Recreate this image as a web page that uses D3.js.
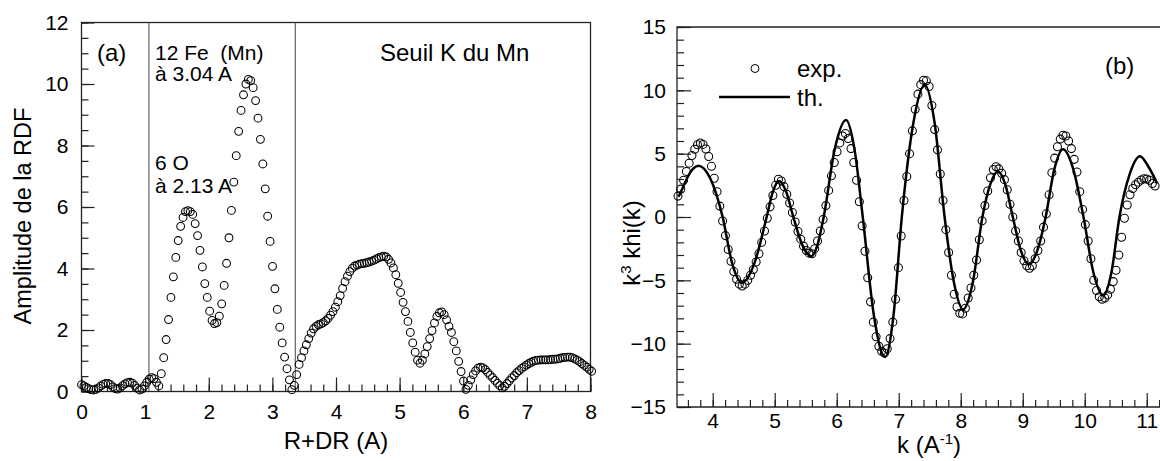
<!DOCTYPE html>
<html><head><meta charset="utf-8">
<script src="https://cdn.jsdelivr.net/npm/d3@7"></script>
<style>body{margin:0;background:#fff} svg text{font-family:"Liberation Sans",Arial,sans-serif;fill:#000}</style>
</head><body><svg id="c" width="1160" height="461"></svg>
<script>
// ---------- Panel (a): RDF amplitude ----------
const rdfR = [0,0.038,0.076,0.114,0.152,0.19,0.228,0.266,0.304,0.342,
0.38,0.418,0.456,0.494,0.532,0.57,0.608,0.646,0.684,0.722,
0.76,0.798,0.836,0.874,0.912,0.95,0.988,1.026,1.064,1.102,
1.14,1.178,1.216,1.254,1.292,1.33,1.368,1.406,1.444,1.482,
1.52,1.558,1.596,1.634,1.672,1.71,1.748,1.786,1.824,1.862,
1.9,1.938,1.976,2.014,2.052,2.09,2.128,2.166,2.204,2.242,
2.28,2.318,2.356,2.394,2.432,2.47,2.508,2.546,2.584,2.622,
2.66,2.698,2.736,2.774,2.812,2.85,2.888,2.926,2.964,3.002,
3.04,3.078,3.116,3.154,3.192,3.23,3.268,3.306,3.344,3.382,
3.42,3.458,3.496,3.534,3.572,3.61,3.648,3.686,3.724,3.762,
3.8,3.838,3.876,3.914,3.952,3.99,4.028,4.066,4.104,4.142,
4.18,4.218,4.256,4.294,4.332,4.37,4.408,4.446,4.484,4.522,
4.56,4.598,4.636,4.674,4.712,4.75,4.788,4.826,4.864,4.902,
4.94,4.978,5.016,5.054,5.092,5.13,5.168,5.206,5.244,5.282,
5.32,5.358,5.396,5.434,5.472,5.51,5.548,5.586,5.624,5.662,
5.7,5.738,5.776,5.814,5.852,5.89,5.928,5.966,6.004,6.042,
6.08,6.118,6.156,6.194,6.232,6.27,6.308,6.346,6.384,6.422,
6.46,6.498,6.536,6.574,6.612,6.65,6.688,6.726,6.764,6.802,
6.84,6.878,6.916,6.954,6.992,7.03,7.068,7.106,7.144,7.182,
7.22,7.258,7.296,7.334,7.372,7.41,7.448,7.486,7.524,7.562,
7.6,7.638,7.676,7.714,7.752,7.79,7.828,7.866,7.904,7.942,
7.98,8.018];
const rdfAmp = [0.22,0.18,0.13,0.09,0.06,0.05,0.07,0.12,0.18,0.23,
0.26,0.26,0.22,0.15,0.09,0.08,0.12,0.19,0.25,0.29,
0.3,0.27,0.2,0.11,0.05,0.08,0.18,0.3,0.4,0.45,
0.42,0.3,0.18,0.58,1.1,1.69,2.34,3.06,3.73,4.36,
4.91,5.37,5.66,5.85,5.88,5.85,5.76,5.46,5.07,4.59,
4.05,3.51,3.06,2.61,2.31,2.21,2.24,2.45,2.85,3.45,
4.17,5.0,5.89,6.81,7.67,8.46,9.14,9.65,10.0,10.15,
10.11,9.88,9.46,8.89,8.2,7.4,6.59,5.7,4.88,4.07,
3.34,2.67,2.09,1.58,1.12,0.74,0.38,0.06,0.2,0.55,
0.88,1.1,1.32,1.52,1.72,1.9,2.04,2.12,2.17,2.2,
2.24,2.3,2.38,2.48,2.6,2.74,2.92,3.12,3.35,3.57,
3.75,3.9,4.01,4.08,4.11,4.14,4.16,4.17,4.19,4.21,
4.24,4.27,4.31,4.35,4.38,4.4,4.38,4.3,4.18,4.02,
3.8,3.52,3.22,2.9,2.6,2.28,1.92,1.58,1.28,1.02,
0.92,1.02,1.22,1.46,1.72,1.98,2.23,2.44,2.56,2.59,
2.5,2.33,2.12,1.92,1.62,1.32,0.98,0.65,0.34,0.07,
0.2,0.38,0.55,0.67,0.76,0.79,0.77,0.71,0.62,0.53,
0.45,0.36,0.27,0.19,0.12,0.17,0.26,0.35,0.44,0.52,
0.61,0.68,0.75,0.8,0.86,0.91,0.95,0.99,1.01,1.02,
1.03,1.03,1.03,1.03,1.04,1.05,1.05,1.06,1.08,1.1,
1.11,1.12,1.12,1.1,1.06,1.02,0.97,0.91,0.85,0.79,
0.72,0.66];
const shellLinesR = [1.06, 3.36];
const xTicksA = [0,1,2,3,4,5,6,7,8];
const yTicksA = [0,2,4,6,8,10,12];

// ---------- Panel (b): k^3 chi(k) ----------
const expK = [3.44,3.485,3.53,3.575,3.62,3.665,3.71,3.755,3.8,3.845,
3.89,3.935,3.98,4.025,4.07,4.115,4.16,4.205,4.25,4.295,
4.34,4.385,4.43,4.475,4.52,4.565,4.61,4.655,4.7,4.745,
4.79,4.835,4.88,4.925,4.97,5.015,5.06,5.105,5.15,5.195,
5.24,5.285,5.33,5.375,5.42,5.465,5.51,5.555,5.6,5.645,
5.69,5.735,5.78,5.825,5.87,5.915,5.96,6.005,6.05,6.095,
6.14,6.185,6.23,6.275,6.32,6.365,6.41,6.455,6.5,6.545,
6.59,6.635,6.68,6.725,6.77,6.815,6.86,6.905,6.95,6.995,
7.04,7.085,7.13,7.175,7.22,7.265,7.31,7.355,7.4,7.445,
7.49,7.535,7.58,7.625,7.67,7.715,7.76,7.805,7.85,7.895,
7.94,7.985,8.03,8.075,8.12,8.165,8.21,8.255,8.3,8.345,
8.39,8.435,8.48,8.525,8.57,8.615,8.66,8.705,8.75,8.795,
8.84,8.885,8.93,8.975,9.02,9.065,9.11,9.155,9.2,9.245,
9.29,9.335,9.38,9.425,9.47,9.515,9.56,9.605,9.65,9.695,
9.74,9.785,9.83,9.875,9.92,9.965,10.01,10.055,10.1,10.145,
10.19,10.235,10.28,10.325,10.37,10.415,10.46,10.505,10.55,10.595,
10.64,10.685,10.73,10.775,10.82,10.865,10.91,10.955,11.0,11.045,
11.09,11.135];
const expChi = [1.65,2.2,2.9,3.6,4.25,4.85,5.35,5.7,5.85,5.73,
5.37,4.78,4.0,3.06,2.0,0.86,-0.32,-1.47,-2.56,-3.5,
-4.31,-4.91,-5.3,-5.45,-5.3,-5.0,-4.6,-4.15,-3.55,-2.9,
-2.0,-1.1,-0.1,0.8,1.7,2.5,2.98,2.85,2.4,1.8,
1.1,0.35,-0.4,-1.15,-1.75,-2.3,-2.65,-2.85,-2.9,-2.5,
-1.9,-1.1,-0.2,0.9,2.1,3.25,4.3,5.15,5.85,6.4,
6.6,6.2,5.4,4.3,2.9,1.2,-0.7,-2.7,-4.8,-6.7,
-8.3,-9.45,-10.2,-10.6,-10.75,-10.4,-9.6,-8.3,-6.5,-4.0,
-1.5,1.3,3.2,5.0,6.8,8.5,9.7,10.45,10.8,10.75,
10.3,8.8,6.9,5.3,3.4,1.3,-1.0,-2.8,-4.6,-6.1,
-7.1,-7.6,-7.65,-7.2,-6.4,-5.6,-4.6,-3.4,-1.8,-0.3,
0.9,2.05,3.1,3.75,3.97,3.8,3.45,2.95,2.15,1.0,
0.0,-1.1,-1.9,-2.8,-3.45,-3.85,-4.05,-3.85,-3.3,-2.65,
-1.9,-0.8,0.25,1.75,3.5,4.65,5.55,6.15,6.45,6.4,
6.0,5.4,4.55,3.55,2.0,0.6,-0.6,-1.9,-3.3,-5.0,
-5.8,-6.3,-6.5,-6.4,-6.15,-5.7,-5.1,-4.2,-3.0,-1.6,
-0.1,0.95,1.75,2.25,2.55,2.75,2.92,3.02,3.0,2.9,
2.65,2.45];
const thK = [3.45,3.53,3.6,3.68,3.77,3.965,4.16,4.315,4.47,4.67,4.87,4.97,5.07,5.185,5.3,5.445,5.59,5.69,5.79,5.97,6.15,6.285,6.42,6.6,6.78,6.915,7.05,7.235,7.42,7.58,7.74,7.89,8.04,8.195,8.35,8.475,8.6,8.72,8.84,8.97,9.1,9.235,9.37,9.51,9.65,9.815,9.98,10.14,10.3,10.43,10.56,10.725,10.89,11.03,11.17];
const thChi = [1.6,2.45,3.2,3.8,4.05,3.0,0,-3.68,-5.2,-3.68,0,2.0,2.85,2.0,0,-2.2,-3.1,-2.2,0,5.4,7.65,5.4,0,-7.8,-11.05,-7.8,0,7.4,10.45,7.4,0,-5.16,-7.3,-5.16,0,2.55,3.6,2.55,0,-2.65,-3.75,-2.65,0,3.78,5.35,3.78,0,-4.38,-6.2,-4.38,0,3.39,4.8,3.95,2.65];
const xTicksB = [4,5,6,7,8,9,10,11];
const yTicksB = [-15,-10,-5,0,5,10,15];
const legendLabels = ["exp.", "th."];

// ---------- drawing ----------
const svg = d3.select('#c');
const ink = '#000', axisCol = '#222';
const TICK_FS = 21, TITLE_FS = 24, ANN_FS = 21, TAG_FS = 24;

function txt(g, x, y, s, fs, anchor, rot) {
  const t = g.append('text').attr('font-size', fs).attr('text-anchor', anchor || 'start')
    .attr('transform', `translate(${x},${y})` + (rot ? ` rotate(${rot})` : ''));
  t.text(s);
  return t;
}

// ===== Panel A =====
const xA = d3.scaleLinear().domain([0, 8]).range([81.5, 590.5]);
const yA = d3.scaleLinear().domain([0, 12]).range([391.5, 22.5]);
const gA = svg.append('g');

gA.append('g').attr('transform', `translate(0,${yA(0)})`)
  .call(d3.axisBottom(xA).tickValues(d3.range(0, 8.001, 0.2)).tickSize(-7).tickFormat(''))
  .call(g => g.select('.domain').remove());
gA.append('g').attr('transform', `translate(0,${yA(0)})`)
  .call(d3.axisBottom(xA).tickValues(xTicksA).tickSize(-14).tickPadding(13).tickFormat(d3.format('d')))
  .call(g => g.select('.domain').remove())
  .call(g => g.selectAll('text').attr('font-size', TICK_FS).attr('fill', ink));
gA.append('g').attr('transform', `translate(${xA(0)},0)`)
  .call(d3.axisLeft(yA).tickValues(d3.range(0, 12.001, 0.5)).tickSize(-7).tickFormat(''))
  .call(g => g.select('.domain').remove());
gA.append('g').attr('transform', `translate(${xA(0)},0)`)
  .call(d3.axisLeft(yA).tickValues(yTicksA).tickSize(-13).tickPadding(13).tickFormat(d3.format('d')))
  .call(g => g.select('.domain').remove())
  .call(g => g.selectAll('text').attr('font-size', TICK_FS).attr('fill', ink));
gA.selectAll('.tick line').attr('stroke', axisCol).attr('stroke-width', 1.2);

gA.append('rect').attr('x', xA(0)).attr('y', yA(12)).attr('width', xA(8) - xA(0)).attr('height', yA(0) - yA(12))
  .attr('fill', 'none').attr('stroke', axisCol).attr('stroke-width', 1.3);
gA.selectAll('line.shell').data(shellLinesR).join('line').attr('class', 'shell')
  .attr('x1', d => xA(d)).attr('x2', d => xA(d)).attr('y1', yA(12)).attr('y2', yA(0))
  .attr('stroke', '#555').attr('stroke-width', 1.1);

gA.append('g').selectAll('circle').data(rdfR.map((r, i) => [r, rdfAmp[i]])).join('circle')
  .attr('cx', d => xA(d[0])).attr('cy', d => yA(d[1])).attr('r', 3.9)
  .attr('fill', 'none').attr('stroke', ink).attr('stroke-width', 1.05);

txt(gA, 336, 449, 'R+DR (A)', TITLE_FS, 'middle');
txt(gA, 31, 216, 'Amplitude de la RDF', 23.5, 'middle', -90);
txt(gA, 97, 61, '(a)', TAG_FS);
txt(gA, 155, 60, '12 Fe\u00a0\u00a0(Mn)', ANN_FS);
txt(gA, 155, 81, 'à 3.04 A', ANN_FS);
txt(gA, 155, 170, '6 O', ANN_FS);
txt(gA, 155, 193, 'à 2.13 A', ANN_FS);
txt(gA, 380, 61, 'Seuil K du Mn', TAG_FS);

// ===== Panel B =====
const xB = d3.scaleLinear().domain([3.424, 11.214]).range([677, 1160]);
const yB = d3.scaleLinear().domain([-15, 15]).range([407, 27]);
const gB = svg.append('g');

gB.append('g').attr('transform', `translate(0,${yB(-15)})`)
  .call(d3.axisBottom(xB).tickValues(d3.range(3.6, 11.201, 0.2)).tickSize(-7).tickFormat(''))
  .call(g => g.select('.domain').remove());
gB.append('g').attr('transform', `translate(0,${yB(-15)})`)
  .call(d3.axisBottom(xB).tickValues(xTicksB).tickSize(-14).tickPadding(6).tickFormat(d3.format('d')))
  .call(g => g.select('.domain').remove())
  .call(g => g.selectAll('text').attr('font-size', TICK_FS).attr('fill', ink));
gB.append('g').attr('transform', `translate(${xB.range()[0]},0)`)
  .call(d3.axisLeft(yB).tickValues(d3.range(-15, 15.001, 1)).tickSize(-7).tickFormat(''))
  .call(g => g.select('.domain').remove());
gB.append('g').attr('transform', `translate(${xB.range()[0]},0)`)
  .call(d3.axisLeft(yB).tickValues(yTicksB).tickSize(-14).tickPadding(11).tickFormat(d3.format('d')))
  .call(g => g.select('.domain').remove())
  .call(g => g.selectAll('text').attr('font-size', TICK_FS).attr('fill', ink));
gB.selectAll('.tick line').attr('stroke', axisCol).attr('stroke-width', 1.2);

gB.append('path').attr('d', `M1160,${yB(15)}H${xB.range()[0]}V${yB(-15)}H1160`)
  .attr('fill', 'none').attr('stroke', axisCol).attr('stroke-width', 1.3);

const line = d3.line().x(d => xB(d[0])).y(d => yB(d[1])).curve(d3.curveMonotoneX);
gB.append('path').datum(thK.map((k, i) => [k, thChi[i]])).attr('d', line)
  .attr('fill', 'none').attr('stroke', ink).attr('stroke-width', 2.5);
gB.append('g').selectAll('circle').data(expK.map((k, i) => [k, expChi[i]])).join('circle')
  .attr('cx', d => xB(d[0])).attr('cy', d => yB(d[1])).attr('r', 4)
  .attr('fill', 'none').attr('stroke', ink).attr('stroke-width', 1.05);

// legend
gB.append('circle').attr('cx', 755).attr('cy', 68.5).attr('r', 4).attr('fill', 'none').attr('stroke', ink);
txt(gB, 797, 77, legendLabels[0], TAG_FS);
gB.append('line').attr('x1', 719).attr('x2', 790).attr('y1', 97).attr('y2', 97).attr('stroke', ink).attr('stroke-width', 2.5);
txt(gB, 797, 106, legendLabels[1], TAG_FS);
txt(gB, 1105, 74, '(b)', TAG_FS);

// axis titles with superscripts
const xt = gB.append('text').attr('font-size', TITLE_FS).attr('text-anchor', 'middle').attr('x', 929).attr('y', 453);
xt.append('tspan').text('k (A');
xt.append('tspan').attr('font-size', 15).attr('dy', -9).text('-1');
xt.append('tspan').attr('dy', 9).text(')');
const yt = gB.append('text').attr('font-size', TITLE_FS).attr('text-anchor', 'middle')
  .attr('transform', 'translate(640,243) rotate(-90)');
yt.append('tspan').text('k');
yt.append('tspan').attr('font-size', 15).attr('dy', -9).text('3');
yt.append('tspan').attr('dy', 9).text(' khi(k)');
</script></body></html>
